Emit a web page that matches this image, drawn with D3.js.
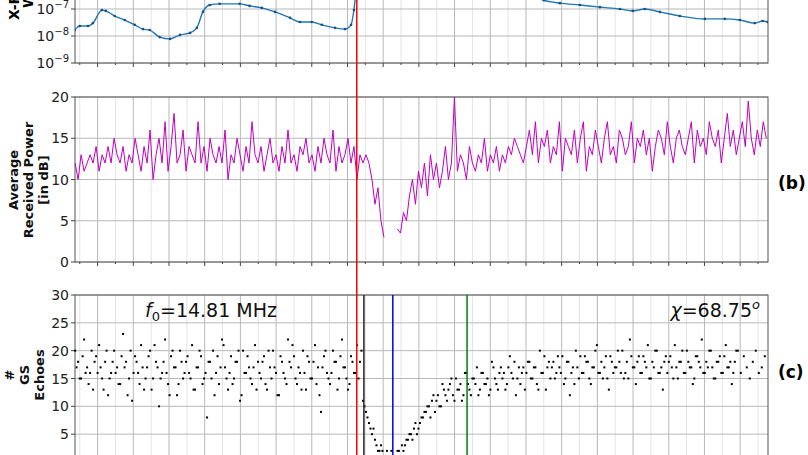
<!DOCTYPE html>
<html><head><meta charset="utf-8">
<script src="https://cdn.jsdelivr.net/npm/d3@7"></script>
<style>body{margin:0;background:#fff}text{font-family:"DejaVu Sans",sans-serif}</style>
</head><body><svg id="c" width="808" height="455"></svg>
<script>
// x-ray flux (time in hours from first major tick)
const fluxT = [-0.64,-0.50,-0.27,-0.13,0.12,0.23,0.48,0.76,1.04,1.27,1.46,1.74,2.03,2.31,2.59,2.78,2.95,3.14,3.42,3.98,4.26,4.60,4.97,5.39,5.67,6.00,6.28,6.65,6.93,7.10,7.18,
  7.3,7.6,8.5,9.5,10.5,11.5,12.0,
  12.5,12.95,13.51,14.07,14.63,14.99,15.33,15.75,16.31,17.01,17.57,17.99,18.41,18.63,18.77];
const fluxV = [1.66e-8,2.34e-8,2.34e-8,3.0e-8,9.1e-8,8.5e-8,5.5e-8,3.9e-8,2.6e-8,1.8e-8,1.66e-8,9.1e-9,7.8e-9,1.1e-8,1.3e-8,2.0e-8,7.8e-8,1.4e-7,1.55e-7,1.55e-7,1.3e-7,1.1e-7,7.8e-8,4.7e-8,3.3e-8,3.3e-8,2.6e-8,2.0e-8,1.8e-8,2.6e-8,9.1e-8,
  3e-6,3e-5,2.5e-5,1.2e-5,3e-6,1e-6,4e-7,
  2.1e-7,1.65e-7,1.4e-7,1.17e-7,1.0e-7,8.5e-8,1.0e-7,7.8e-8,5.5e-8,4.3e-8,4.3e-8,3.9e-8,3.0e-8,3.6e-8,3.3e-8];
const fluxTicks = [1e-9,1e-8,1e-7];

// average received power [dB], two segments
const step = 0.084;
const pow1Start = -0.63;
const pow1 = [12,10,13,11,12,13,12,14,11,13,12,14,12,15,13,12,14,11,13,12,15,13,11,14,12,16,10,13,15,12,17,11,14,18,12,13,16,11,14,13,12,17,12,14,11,15,13,12,14,12,16,10,13,12,15,13,11,14,12,17,13,12,14,11,13,15,12,13,11,14,12,16,12,13,11,14,13,15,12,13,11,14,12,15,13,12,16,11,14,12,13,15,12,14,10,13,12,13,12,10,7,9,5,3];
const pow2Start = 8.4;
const pow2 = [4,3.5,6,5,8,10,7,11,9,12,8,13,10,12,9,11,14,10,12,20,11,13,12,10,14,12,11,13,12,15,11,13,12,14,11,13,12,14,13,15,14,13,12,14,16,13,17,12,15,14,16,12,14,13,17,11,15,14,13,16,12,15,17,11,14,13,16,14,12,15,17,13,14,12,16,15,13,14,17,12,15,14,16,13,15,11,14,16,15,13,17,14,12,15,16,14,13,15,17,12,16,14,15,13,17,15,14,16,12,15,18,14,16,13,15,17,14,19.5,15,13,16,14,17,15];
const powTicks = [0,5,10,15,20];

// # GS echoes, two interleaved sweeps
const echoStart = -0.63;
const echoes = [20,18,15,22,17,16,13,19,21,15,18,12,16,20,17,14,23,18,15,11,19,16,21,13,17,20,15,18,10,16,22,14,19,17,12,20,15,18,16,21,13,17,19,15,8,18,20,16,14,22,17,13,19,15,18,11,20,16,17,14,21,18,15,19,13,17,20,16,12,18,15,22,17,19,14,16,20,13,18,15,21,17,9,19,16,14,20,18,15,22,17,13,19,16,21,18,
  11,9,7,5,4,2,3,1,2,1,1,
  1,2,3,3,4,5,6,5,7,8,9,10,11,9,12,10,13,11,14,12,15,13,11,16,14,12,15,17,13,16,14,12,18,15,13,17,16,14,19,15,12,17,16,13,18,15,17,14,20,16,13,18,17,15,19,16,14,18,12,17,20,15,16,19,18,14,17,21,16,15,19,13,18,17,20,16,15,18,22,17,14,19,16,18,21,15,17,20,16,13,19,18,17,21,15,18,16,20,17,14,19,18,22,16,17,20,15,18,19,16,21,17,14,18,20,16,19,17,15,18,20,16,17,19];
const echoes2 = [17,15,19,16,14,20,18,16,17,13,20,15,18,16,14,19,17,12,20,16,18,14,17,15,19,13,21,17,15,18,16,12,20,17,14,18,16,19,15,13,17,20,14,16,18,15,12,19,17,21,15,16,14,18,20,12,16,19,15,17,13,16,18,14,20,15,17,12,19,16,14,18,21,15,17,13,16,19,15,18,14,12,17,20,15,16,18,13,19,17,15,14,18,16,15,20,
  10,8,6,6,3,2,2,1,1,2,1,
  2,1,2,4,5,4,7,6,8,9,10,8,12,11,10,14,12,13,15,11,13,14,12,16,13,15,14,12,16,14,15,13,17,14,16,15,13,17,16,18,15,14,17,16,18,15,17,13,16,19,17,15,18,16,17,19,15,18,16,14,17,19,16,18,15,17,20,16,18,17,15,19,16,17,18,20,16,15,19,17,18,16,19,17,15,18,20,16,17,18,16,19,15,17,18,20,16,18,17,15,19,17,16,18,20,17,15,18,16,19,17,18,16,20];
const echoTicks = [5,10,15,20,25,30];

const markers = [{t:7.26,c:"#ff0000",all:true},{t:7.46,c:"#222"},{t:8.27,c:"#0000dd"},{t:10.35,c:"#008000"}];

const svg = d3.select("#c");
const L = 75, R = 768;
const x = d3.scaleLinear().domain([-0.633, 18.78]).range([L, R]);
const majors = d3.range(0, 19);
const minors = d3.range(-0.5, 18.8, 1);

function panel(y, ticks, fmt, top, bottom) {
  const g = svg.append("g");
  g.selectAll(".mn").data(minors).join("line").attr("x1", x).attr("x2", x).attr("y1", top).attr("y2", bottom).attr("stroke", "#e4e4e4");
  g.selectAll(".mj").data(majors).join("line").attr("x1", x).attr("x2", x).attr("y1", top).attr("y2", bottom).attr("stroke", "#b8b8b8");
  g.selectAll(".hy").data(ticks).join("line").attr("x1", L).attr("x2", R).attr("y1", y).attr("y2", y).attr("stroke", "#b8b8b8");
  g.append("rect").attr("x", L).attr("y", top).attr("width", R - L).attr("height", bottom - top).attr("fill", "none").attr("stroke", "#555");
  g.selectAll(".tk").data(majors).join("line").attr("x1", x).attr("x2", x).attr("y1", bottom).attr("y2", bottom + 4).attr("stroke", "#444");
  g.selectAll(".tm").data(minors).join("line").attr("x1", x).attr("x2", x).attr("y1", bottom).attr("y2", bottom + 2).attr("stroke", "#444");
  g.selectAll(".yt").data(ticks).join("line").attr("x1", L - 4).attr("x2", L).attr("y1", y).attr("y2", y).attr("stroke", "#444");
  g.selectAll(".yl").data(ticks).join("text").attr("x", L - 6).attr("y", d => y(d) + 5)
    .attr("text-anchor", "end").attr("font-size", 14).attr("fill", "#222").each(function(d){ fmt(d3.select(this), d); });
  return g;
}

// panel a
const yA = d3.scaleLog().domain([1e-9, 1e-6]).range([63, -18]);
panel(yA, fluxTicks, (s, d) => { s.text("10"); s.append("tspan").attr("dy", -6).attr("font-size", 10).text("\u2212" + Math.round(-Math.log10(d))); }, -40, 63);
svg.append("clipPath").attr("id", "ca").append("rect").attr("x", L).attr("y", -40).attr("width", R - L).attr("height", 103);
const fl = fluxT.map((t, i) => [t, fluxV[i]]);
const ga = svg.append("g").attr("clip-path", "url(#ca)");
ga.append("path").datum(fl).attr("d", d3.line().x(d => x(d[0])).y(d => yA(d[1])).curve(d3.curveMonotoneX))
  .attr("fill", "none").attr("stroke", "#1f77b4").attr("stroke-width", 1.4);
ga.selectAll("circle").data(fl).join("circle").attr("cx", d => x(d[0])).attr("cy", d => yA(d[1])).attr("r", 1.3).attr("fill", "#1a4f80");

// panel b
const yB = d3.scaleLinear().domain([0, 20]).range([262, 97]);
panel(yB, powTicks, (s, d) => s.text(d), 97, 262);
const line = d3.line().x(d => x(d[0])).y(d => yB(d[1]));
[[pow1Start, pow1], [pow2Start, pow2]].forEach(([s, arr]) => {
  svg.append("path").datum(arr.map((v, i) => [s + i * step, v])).attr("d", line)
    .attr("fill", "none").attr("stroke", "#bf00bf").attr("stroke-width", 1);
});

// panel c
const yC = d3.scaleLinear().domain([0, 30]).range([462, 295]);
panel(yC, echoTicks, (s, d) => s.text(d), 295, 462);
[[echoes, 0], [echoes2, step / 2]].forEach(([arr, off]) => {
  svg.append("g").selectAll("rect").data(arr).join("rect")
    .attr("x", (v, i) => x(echoStart + off + i * step) - 1).attr("y", v => yC(v) - 1)
    .attr("width", 2).attr("height", 2).attr("fill", "#000");
});

// vertical event lines
markers.forEach(m => {
  svg.append("line").attr("x1", x(m.t)).attr("x2", x(m.t)).attr("y1", m.all ? 0 : 295).attr("y2", 455)
    .attr("stroke", m.c).attr("stroke-width", 1.5);
});

// labels
function ylab(cx, cy, lines) {
  const t = svg.append("text").attr("transform", `translate(${cx},${cy}) rotate(-90)`).attr("text-anchor", "middle")
    .attr("font-weight", "bold").attr("font-size", 13).attr("fill", "#111");
  lines.forEach((l, i) => t.append("tspan").attr("x", 0).attr("dy", i ? 15 : 0).text(l));
}
ylab(18, 180, ["Average", "Received Power", "[in dB]"]);
ylab(14, 375, ["#", "GS", "Echoes"]);
svg.append("text").attr("transform", "translate(19,20) rotate(-90)").attr("font-weight", "bold").attr("font-size", 14).text("X-Ray Flux");
svg.append("text").attr("transform", "translate(33,8) rotate(-90)").attr("font-weight", "bold").attr("font-size", 14).text("W/m\u00b2");
svg.append("text").attr("x", 778).attr("y", 189).attr("font-weight", "bold").attr("font-size", 17).text("(b)");
svg.append("text").attr("x", 778).attr("y", 378).attr("font-weight", "bold").attr("font-size", 17).text("(c)");

const f0 = svg.append("text").attr("x", 145).attr("y", 317).attr("font-size", 19).attr("fill", "#111");
f0.append("tspan").attr("font-style", "italic").text("f");
f0.append("tspan").attr("font-size", 13).attr("dy", 4).text("0");
f0.append("tspan").attr("dy", -4).text("=14.81 MHz");
const chi = svg.append("text").attr("x", 760).attr("y", 317).attr("text-anchor", "end").attr("font-size", 19).attr("fill", "#111");
chi.append("tspan").attr("font-style", "italic").text("\u03c7");
chi.append("tspan").text("=68.75");
chi.append("tspan").attr("font-style", "italic").attr("font-size", 13).attr("dy", -8).text("o");
</script></body></html>
